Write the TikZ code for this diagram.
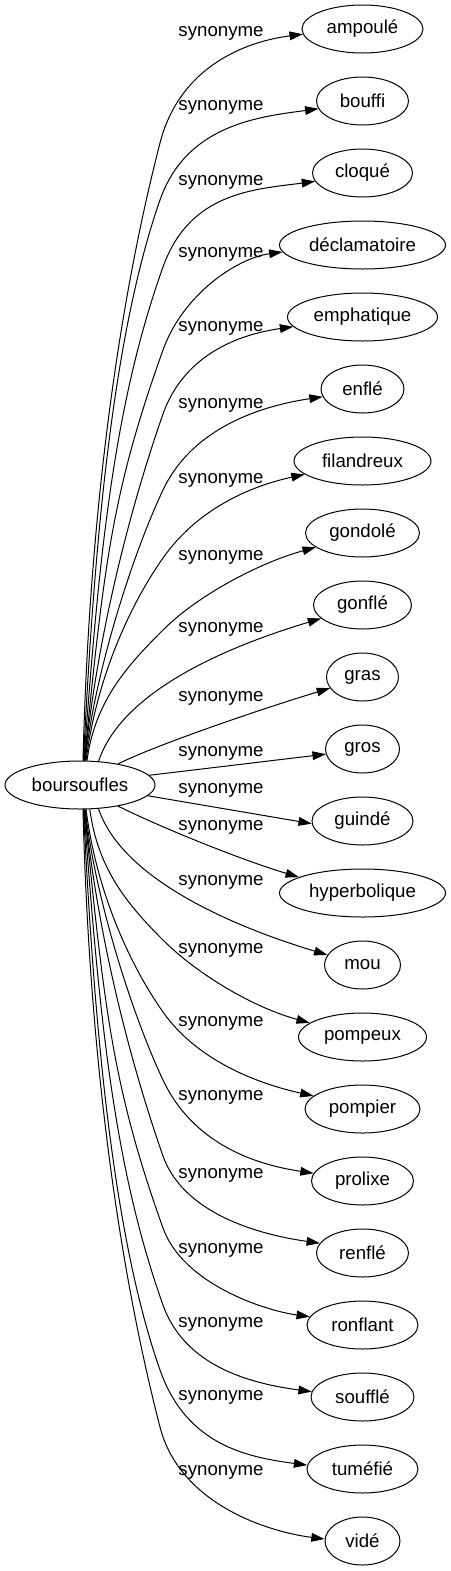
\documentclass[tikz,border=0pt]{standalone}
\usepackage{fontspec}
\setmainfont{Liberation Sans}
\usetikzlibrary{arrows.meta,shapes.geometric}
\begin{document}
\begin{tikzpicture}[x=0.75pt,y=-0.75pt,
  font=\fontsize{14pt}{16pt}\selectfont,
  word/.style={draw, ellipse, line width=0.75pt, inner sep=0pt, minimum height=36pt},
  lab/.style={inner sep=0pt},
  syn/.style={line width=0.75pt, -{Triangle[length=10pt,width=6.5pt]}}]
\useasboundingbox (0,0) rectangle (450,1571);
% source
\node[word, minimum width=112.5pt] (b) at (80,785) {boursoufles};
% targets
\node[word, minimum width=90.75pt]  (t1)  at (362.5,29)   {ampoulé};
\node[word, minimum width=69pt]     (t2)  at (362.5,101)  {bouffi};
\node[word, minimum width=75pt]     (t3)  at (362.5,173)  {cloqué};
\node[word, minimum width=124.5pt]  (t4)  at (362.5,245)  {déclamatoire};
\node[word, minimum width=112.5pt]  (t5)  at (362.5,317)  {emphatique};
\node[word, minimum width=62.25pt]  (t6)  at (362.5,389)  {enflé};
\node[word, minimum width=102.75pt] (t7)  at (362.5,461)  {filandreux};
\node[word, minimum width=85.5pt]   (t8)  at (362.5,533)  {gondolé};
\node[word, minimum width=73.5pt]   (t9)  at (362.5,605)  {gonflé};
\node[word, minimum width=54pt]     (t10) at (362.5,677)  {gras};
\node[word, minimum width=55.5pt]   (t11) at (362.5,749)  {gros};
\node[word, minimum width=75.75pt]  (t12) at (362.5,821)  {guindé};
\node[word, minimum width=124.5pt]  (t13) at (362.5,893)  {hyperbolique};
\node[word, minimum width=57pt]     (t14) at (362.5,965)  {mou};
\node[word, minimum width=96pt]     (t15) at (362.5,1037) {pompeux};
\node[word, minimum width=86.25pt]  (t16) at (362.5,1109) {pompier};
\node[word, minimum width=76.5pt]   (t17) at (362.5,1181) {prolixe};
\node[word, minimum width=69pt]     (t18) at (362.5,1253) {renflé};
\node[word, minimum width=83.25pt]  (t19) at (362.5,1325) {ronflant};
\node[word, minimum width=77.25pt]  (t20) at (362.5,1397) {soufflé};
\node[word, minimum width=83.25pt]  (t21) at (362.5,1469) {tuméfié};
\node[word, minimum width=56.25pt]  (t22) at (362.5,1541) {vidé};
% labels
\node[lab] (l1)  at (221,33)   {synonyme};
\node[lab] (l2)  at (221,107)  {synonyme};
\node[lab] (l3)  at (221,182)  {synonyme};
\node[lab] (l4)  at (221,254)  {synonyme};
\node[lab] (l5)  at (221,328)  {synonyme};
\node[lab] (l6)  at (221,405)  {synonyme};
\node[lab] (l7)  at (221,480)  {synonyme};
\node[lab] (l8)  at (221,557)  {synonyme};
\node[lab] (l9)  at (221,629)  {synonyme};
\node[lab] (l10) at (221,698)  {synonyme};
\node[lab] (l11) at (221,753)  {synonyme};
\node[lab] (l12) at (221,790)  {synonyme};
\node[lab] (l13) at (221,827)  {synonyme};
\node[lab] (l14) at (221,882)  {synonyme};
\node[lab] (l15) at (221,950)  {synonyme};
\node[lab] (l16) at (221,1023) {synonyme};
\node[lab] (l17) at (221,1097) {synonyme};
\node[lab] (l18) at (221,1175) {synonyme};
\node[lab] (l19) at (221,1250) {synonyme};
\node[lab] (l20) at (221,1324) {synonyme};
\node[lab] (l21) at (221,1397) {synonyme};
\node[lab] (l22) at (221,1472) {synonyme};
% edges (upper)
\draw[syn] (b.83) .. controls +(5,-200) and +(-50,194) .. (160,143) .. controls +(20,-78) and +(-55,7) .. (t1.185);
\draw[syn] (b.82) .. controls +(10,-200) and +(-49.5,141) .. (160,200) .. controls +(26.4,-75.2) and +(-60,8) .. (t2.190);
\draw[syn] (b.81) .. controls +(15,-200) and +(-50.4,141) .. (163,267) .. controls +(26.9,-75.4) and +(-60,8) .. (t3.190);
\draw[syn] (b.80) .. controls +(20,-200) and +(-50.4,141) .. (163,350) .. controls +(20,-56) and +(-45,6) .. (t4.185);
\draw[syn] (b.79) .. controls +(12,-120) and +(-35,100) .. (163,414) .. controls +(22,-62) and +(-50,7) .. (t5.188);
\draw[syn] (b.78) .. controls +(10,-90) and +(-30,63.3) .. (163,490) .. controls +(30,-63.3) and +(-60,9) .. (t6.191);
\draw[syn] (b.76) .. controls +(10,-80) and +(-34.5,49) .. (163,558) .. controls +(34.5,-49) and +(-55,12) .. (t7.193);
\draw[syn] (b.74) .. controls +(8,-60) and +(-35.4,35.4) .. (163,630) .. controls +(35.4,-35.4) and +(-55,15) .. (t8.197);
\draw[syn] (b.52) .. controls +(25,-75) and +(-80,24) .. (t9.198);
\draw[syn] (b.29) .. controls +(40,-20) and +(-60,18) .. (t10.199);
\draw[syn] (b.8) -- (t11.188);
% edges (lower)
\draw[syn] (b.-9) -- (t12.183);
\draw[syn] (b.-29) .. controls +(40,20) and +(-60,-18) .. (t13.166);
\draw[syn] (b.-52) .. controls +(25,75) and +(-80,-24) .. (t14.164);
\draw[syn] (b.-68) .. controls +(8,60) and +(-35.4,-35.4) .. (163,940) .. controls +(35.4,35.4) and +(-55,-15) .. (t15.165);
\draw[syn] (b.-76) .. controls +(10,80) and +(-34.5,-49) .. (163,1012) .. controls +(34.5,49) and +(-55,-12) .. (t16.165);
\draw[syn] (b.-78) .. controls +(10,90) and +(-30,-63.3) .. (163,1080) .. controls +(30,63.3) and +(-60,-9) .. (t17.171);
\draw[syn] (b.-79) .. controls +(12,120) and +(-35,-100) .. (163,1156) .. controls +(22,62) and +(-50,-7) .. (t18.167);
\draw[syn] (b.-80) .. controls +(20,200) and +(-50.4,-141) .. (163,1228) .. controls +(20,56) and +(-45,-6) .. (t19.171);
\draw[syn] (b.-81) .. controls +(15,200) and +(-50.4,-141) .. (163,1305) .. controls +(22,62) and +(-60,-8) .. (t20.174);
\draw[syn] (b.-82) .. controls +(10,200) and +(-49.5,-141) .. (160,1370) .. controls +(26.4,75.2) and +(-60,-8) .. (t21.176);
\draw[syn] (b.-83) .. controls +(5,200) and +(-50,-194) .. (160,1427) .. controls +(20,78) and +(-55,-7) .. (t22.177);
\end{tikzpicture}
\end{document}
